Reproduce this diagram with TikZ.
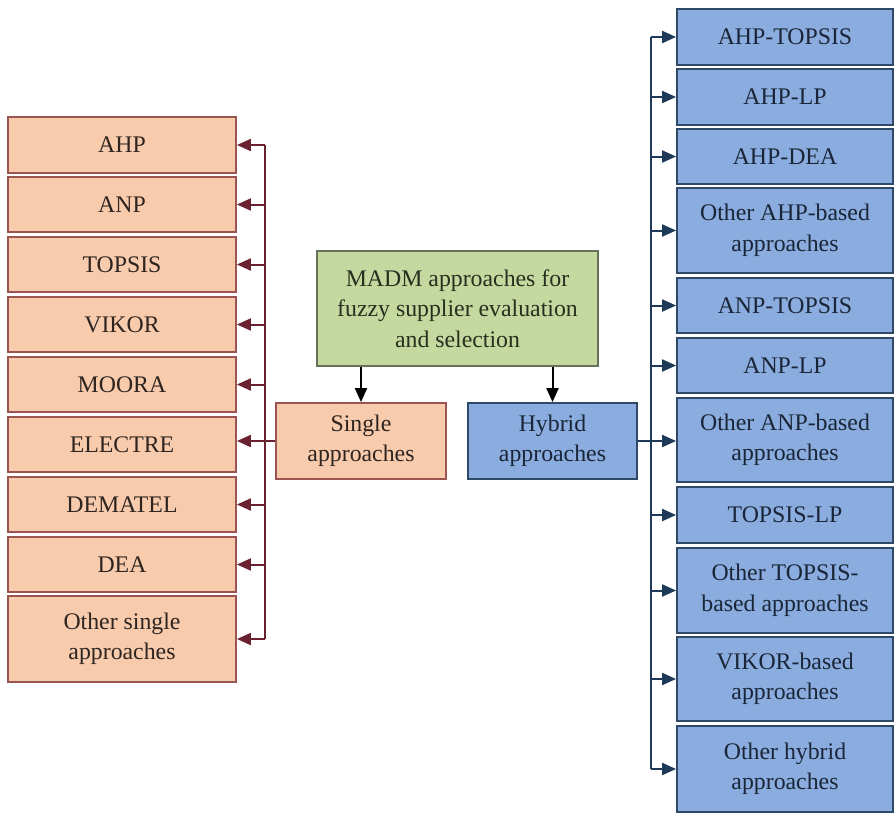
\documentclass[tikz,border=0pt]{standalone}
\usepackage{fontspec}
\setmainfont{Liberation Serif}
\usetikzlibrary{arrows.meta}
\definecolor{lfill}{HTML}{F8CBAD}
\definecolor{ldraw}{HTML}{9A5550}
\definecolor{larr}{HTML}{6B2230}
\definecolor{rfill}{HTML}{8AACDE}
\definecolor{rdraw}{HTML}{2F4A68}
\definecolor{rarr}{HTML}{1F3A58}
\definecolor{gfill}{HTML}{C5D89F}
\definecolor{gdraw}{HTML}{66735A}
\definecolor{ltxt}{HTML}{2E2420}
\definecolor{rtxt}{HTML}{1A2638}
\definecolor{gtxt}{HTML}{27301E}
\tikzset{
  basebox/.style={rectangle, line width=1.8pt, align=center,
    font=\fontsize{23.8}{30.5}\selectfont, inner sep=0pt},
  lbox/.style={basebox, fill=lfill, draw=ldraw, text=ltxt, minimum width=228pt},
  rbox/.style={basebox, fill=rfill, draw=rdraw, text=rtxt, minimum width=216pt},
  gbox/.style={basebox, fill=gfill, draw=gdraw, text=gtxt},
  tipshape/.style={-{Triangle[length=14pt,width=12pt]}},
  larrow/.style={draw=larr, line width=2pt, tipshape},
  rarrow/.style={draw=rarr, line width=2pt, tipshape},
  karrow/.style={draw=black, line width=2pt, tipshape},
  lbusline/.style={draw=larr, line width=2pt},
  rbusline/.style={draw=rarr, line width=2pt},
}
\begin{document}
\begin{tikzpicture}[x=1pt,y=-1pt]
\useasboundingbox (0,0) rectangle (894,812);
% left column
\node[lbox, minimum height=56pt] (ahp) at (122,145) {AHP};
\node[lbox, minimum height=55pt] (anp) at (122,204.5) {ANP};
\node[lbox, minimum height=55pt] (topsis) at (122,264.5) {TOPSIS};
\node[lbox, minimum height=55pt] (vikor) at (122,324.5) {VIKOR};
\node[lbox, minimum height=55pt] (moora) at (122,384.5) {MOORA};
\node[lbox, minimum height=55pt] (electre) at (122,444.5) {ELECTRE};
\node[lbox, minimum height=55pt] (dematel) at (122,504.5) {DEMATEL};
\node[lbox, minimum height=55pt] (dea) at (122,564.5) {DEA};
\node[lbox, minimum height=86pt] (osingle) at (122,639) {Other single\\approaches};
% center
\node[gbox, minimum width=281pt, minimum height=115pt] (madm) at (457.5,308.5) {MADM approaches for\\fuzzy supplier evaluation\\and selection};
\node[lbox, minimum width=170pt, minimum height=76pt] (single) at (361,441) {Single\\approaches};
\node[rbox, minimum width=169pt, minimum height=76pt] (hybrid) at (552.5,441) {Hybrid\\approaches};
% right column
\node[rbox, minimum height=56pt] (ahptopsis) at (785,37) {AHP-TOPSIS};
\node[rbox, minimum height=56pt] (ahplp) at (785,97) {AHP-LP};
\node[rbox, minimum height=55pt] (ahpdea) at (785,156.5) {AHP-DEA};
\node[rbox, minimum height=85pt] (oahp) at (785,230.5) {Other AHP-based\\approaches};
\node[rbox, minimum height=55pt] (anptopsis) at (785,305.5) {ANP-TOPSIS};
\node[rbox, minimum height=55pt] (anplp) at (785,365.5) {ANP-LP};
\node[rbox, minimum height=84pt] (oanp) at (785,440) {Other ANP-based\\approaches};
\node[rbox, minimum height=56pt] (topsislp) at (785,515) {TOPSIS-LP};
\node[rbox, minimum height=85pt] (otopsis) at (785,590.5) {Other TOPSIS-\\based approaches};
\node[rbox, minimum height=84pt] (vikorb) at (785,679) {VIKOR-based\\approaches};
\node[rbox, minimum height=86pt] (ohybrid) at (785,769) {Other hybrid\\approaches};
% buses
\coordinate (lbus) at (265,0);
\coordinate (rbus) at (651,0);
\draw[lbusline] (lbus |- ahp.east) -- (lbus |- osingle.east);
\foreach \n in {ahp,anp,topsis,vikor,moora,dematel,dea,osingle}
  \draw[larrow] (lbus |- \n.east) -- (\n.east);
\draw[larrow] (single.west) -- (single.west -| electre.east);
\draw[rbusline] (rbus |- ahptopsis.west) -- (rbus |- ohybrid.west);
\foreach \n in {ahptopsis,ahplp,ahpdea,oahp,anptopsis,anplp,topsislp,otopsis,vikorb,ohybrid}
  \draw[rarrow] (rbus |- \n.west) -- (\n.west);
\draw[rarrow] (hybrid.east) -- (hybrid.east -| oanp.west);
% top arrows
\draw[karrow] (madm.south -| single.north) -- (single.north);
\draw[karrow] (madm.south -| hybrid.north) -- (hybrid.north);
\end{tikzpicture}
\end{document}
